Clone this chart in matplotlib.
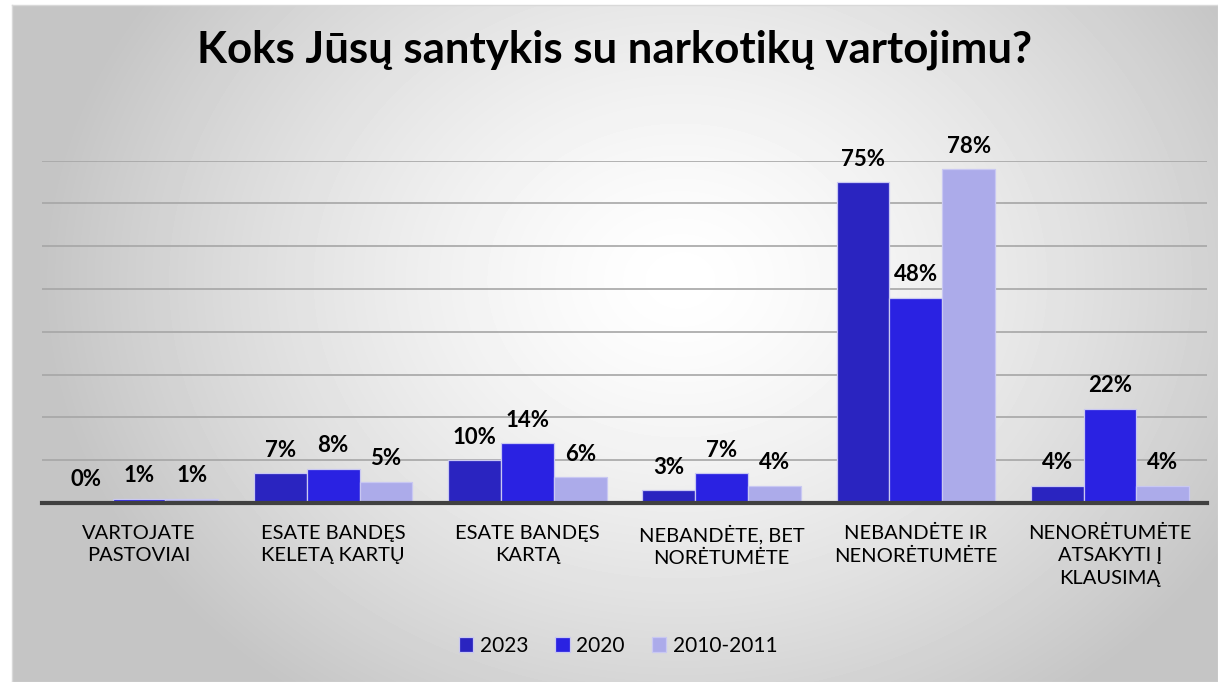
import numpy as np
import matplotlib
matplotlib.use("Agg")
import matplotlib.pyplot as plt

categories = ["VARTOJATE\nPASTOVIAI", "ESATE BANDĘS\nKELETĄ KARTŲ", "ESATE BANDĘS\nKARTĄ",
              "NEBANDĖTE, BET\nNORĖTUMĖTE", "NEBANDĖTE IR\nNENORĖTUMĖTE",
              "NENORĖTUMĖTE\nATSAKYTI Į\nKLAUSIMĄ"]
series_names = ["2023", "2020", "2010-2011"]
values_2023 = [0, 7, 10, 3, 75, 4]
values_2020 = [1, 8, 14, 7, 48, 22]
values_2010 = [1, 5, 6, 4, 78, 4]
colors = ["#2A24C0", "#2A22E2", "#ACABEA"]

plt.rcParams['font.family'] = ['Lato', 'DejaVu Sans']

W, H = 1218, 682
fig = plt.figure(figsize=(W / 100, H / 100), dpi=100)

# radial grey background of the chart area
bg = fig.add_axes([12 / W, 0, 1 - 12 / W, 1 - 5 / H])
yy, xx = np.mgrid[5:H, 12:W]
d = np.sqrt(((xx - 680) / 640.0) ** 2 + ((yy - 280) / 520.0) ** 2)
shade = 1.0 - 0.23 * np.clip(d, 0, 1) ** 1.4
bg.imshow(shade, cmap="gray", vmin=0, vmax=1, aspect="auto", interpolation="bilinear")
bg.set_xticks([])
bg.set_yticks([])
for s in bg.spines.values():
    s.set_color("#D9D9D9")
    s.set_linewidth(1.0)

ax = fig.add_axes([42 / W, 1 - 503 / H, (1207 - 42) / W, (503 - 160.7) / H])
ax.patch.set_alpha(0)

x = np.arange(len(categories))
width = 0.272
all_vals = [values_2023, values_2020, values_2010]
for i, (vals, name, col) in enumerate(zip(all_vals, series_names, colors)):
    bars = ax.bar(x + (i - 1) * width, vals, width, color=col, edgecolor="#C9C8F2",
                  linewidth=0.9, label=name, zorder=3)
    for b, v in zip(bars, vals):
        ax.annotate(f"{v}%", (b.get_x() + b.get_width() / 2, v), xytext=(0, 9),
                    textcoords="offset points", ha="center", va="bottom",
                    fontsize=16, fontweight="bold", color="black")

ax.set_xlim(-0.5, len(categories) - 0.5)
ax.set_ylim(0, 80)
ax.set_yticks(np.arange(10, 81, 10))
ax.yaxis.grid(True, color="#A6A6A6", linewidth=1.2, zorder=0)
ax.tick_params(axis="y", left=False, labelleft=False)
ax.tick_params(axis="x", bottom=False, pad=12)
ax.set_xticks(x)
ax.set_xticklabels(categories, fontsize=14.5, linespacing=1.4, va="top")
for name in ["left", "right", "top"]:
    ax.spines[name].set_visible(False)
ax.spines["bottom"].set_color("#404040")
ax.spines["bottom"].set_linewidth(3)
ax.spines["bottom"].set_zorder(4)

fig.text(615 / W, 1 - 50 / H, "Koks Jūsų santykis su narkotikų vartojimu?",
         ha="center", va="center", fontsize=31.5, fontweight="bold")

leg = ax.legend(loc="center", bbox_to_anchor=(618 / W, 1 - 646 / H),
                bbox_transform=fig.transFigure, ncol=3, frameon=False, fontsize=15,
                handlelength=0.7, handleheight=0.7, handletextpad=0.3, columnspacing=1.3)

fig.savefig("out.png", dpi=100)
